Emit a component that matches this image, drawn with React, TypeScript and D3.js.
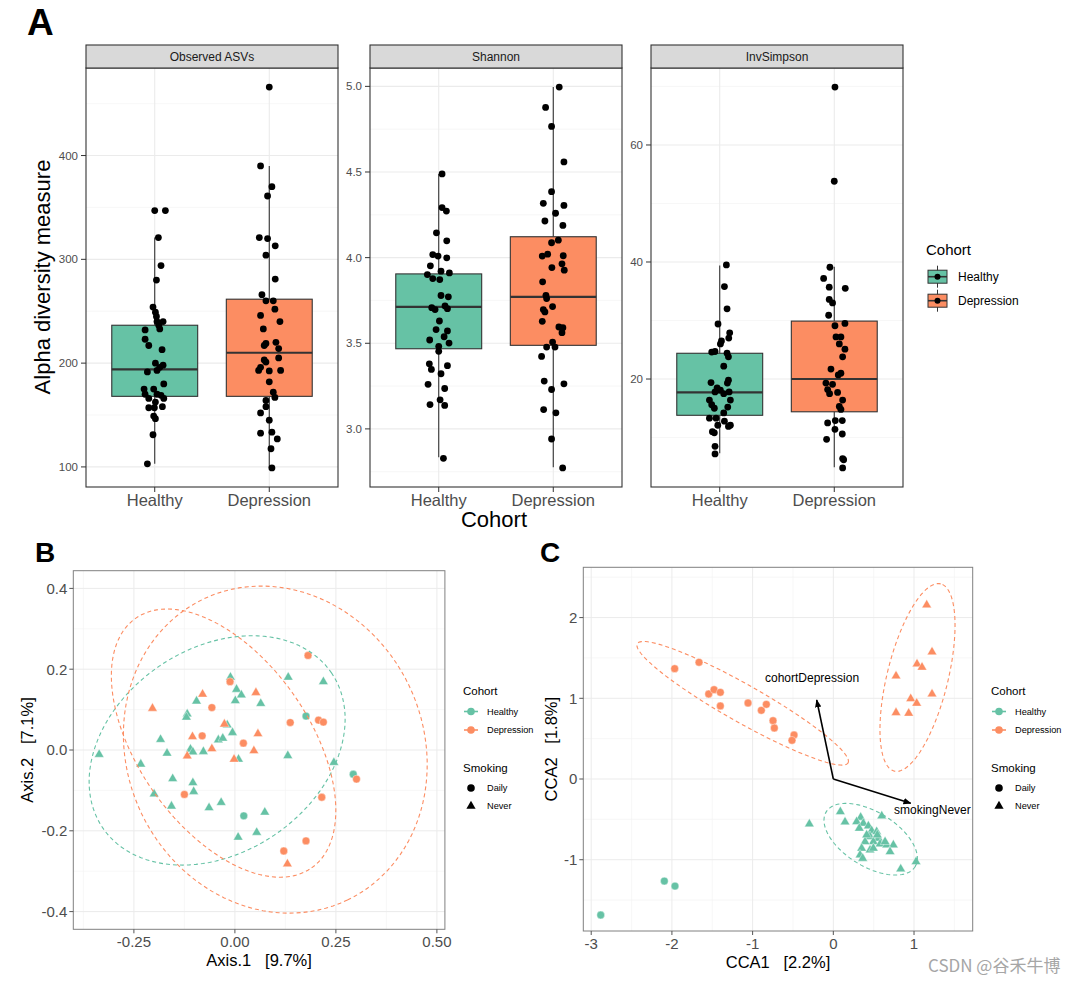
import React from "react";
import * as d3 from "d3";

const FONT = "'Liberation Sans', Arial, Helvetica, sans-serif";
const cohorts = ["Healthy", "Depression"];
const cohortColors = ["#66C2A5", "#FC8D62"];
const smokingLevels = ["Daily", "Never"];
const metrics = ["Observed ASVs", "Shannon", "InvSimpson"];

// [value, horizontal jitter in category units]
const observedHealthy: [number, number][] = [[347,0],[347,0.093],[321,0.032],[294,0.055],[280,0.015],[254,-0.015],[249,0.006],[245,0.015],[240,0.02],[240,0.073],[236.5,0.035],[233,0.044],[232,-0.084],[223,-0.084],[217,-0.052],[213,0.064],[200,0.006],[198,0.073],[191.5,-0.064],[193,0.02],[196,0.044],[180,0.079],[175,-0.093],[175,-0.009],[170,-0.084],[170,0.02],[169,0.055],[166,-0.052],[166,0.079],[162.5,0.006],[158,0.067],[157,-0.052],[157,-0.003],[149,-0.009],[146.5,0.006],[131,-0.015],[103,-0.064]];
const observedDepression: [number, number][] = [[466,0],[390,-0.076],[370,0.023],[361,-0.015],[321,-0.087],[320,-0.015],[313,0.052],[304,-0.029],[281,0.052],[266,-0.064],[260,-0.029],[260,0.035],[246,-0.076],[252,0.049],[240,0.093],[233,-0.052],[217,-0.044],[219,-0.029],[220,0.058],[214,0.082],[203,-0.044],[201,-0.029],[205,0.082],[193,-0.093],[196,-0.076],[192.5,0],[193,0.099],[182,0],[172,0.035],[167,0.049],[164,-0.029],[158,-0.029],[152,-0.076],[145,0],[132.5,-0.076],[133.5,0.023],[127,0.07],[117.5,0.015],[99,0.023]];
const shannonHealthy: [number, number][] = [[4.489,0.029],[4.292,0.029],[4.272,0.067],[4.145,-0.02],[4.098,0.07],[4.018,-0.052],[4.009,-0.006],[3.999,0.07],[3.952,-0.073],[3.901,-0.099],[3.921,0.02],[3.911,0.093],[3.878,-0.052],[3.872,0.009],[3.779,0.02],[3.771,0.084],[3.708,-0.061],[3.697,-0.032],[3.718,0.055],[3.702,0.076],[3.63,0.006],[3.58,-0.023],[3.572,0.076],[3.519,-0.079],[3.538,0.047],[3.501,0.09],[3.482,0],[3.453,0],[3.38,-0.082],[3.347,-0.064],[3.369,0.076],[3.322,0.02],[3.26,-0.093],[3.236,0.052],[3.17,0.012],[3.142,-0.076],[3.137,0.052],[2.828,0.041]];
const shannonDepression: [number, number][] = [[4.996,0.052],[4.877,-0.067],[4.766,-0.015],[4.559,0.093],[4.385,-0.015],[4.317,-0.087],[4.305,0.093],[4.259,0.02],[4.214,-0.073],[4.188,0.084],[4.087,-0.015],[4.102,0.044],[4.009,-0.096],[4.02,-0.049],[4.011,0.087],[3.942,-0.012],[3.964,0.076],[3.927,0.096],[3.859,-0.093],[3.78,-0.064],[3.761,-0.058],[3.714,-0.006],[3.697,-0.087],[3.683,-0.073],[3.628,-0.096],[3.595,0.049],[3.591,0.084],[3.562,0.076],[3.507,-0.006],[3.478,-0.058],[3.478,0.015],[3.423,-0.102],[3.279,-0.079],[3.263,0.093],[3.23,-0.015],[3.113,-0.084],[3.094,0.023],[2.941,-0.015],[2.772,0.082]];
const invSimpsonHealthy: [number, number][] = [[39.5,0.058],[35.8,0.041],[32.0,0.064],[29.4,-0.015],[27.9,0.087],[27.0,0.079],[26.5,0.015],[26.0,0.006],[24.6,-0.07],[24.7,-0.041],[24.4,0.064],[23.8,0.076],[22.2,0.035],[19.8,0.076],[19.3,0.067],[19.4,-0.076],[18.5,-0.023],[18.1,0.006],[17.8,0.082],[17.5,0.035],[17.8,-0.041],[16.4,-0.09],[16.4,0.093],[15.6,-0.07],[15.0,-0.047],[15.2,0.07],[14.2,0.035],[13.3,-0.09],[13.3,-0.032],[12.8,0.041],[12.1,-0.017],[12.1,0.093],[11.9,0.076],[11.0,-0.064],[10.8,-0.047],[8.5,-0.041],[7.2,-0.041]];
const invSimpsonDepression: [number, number][] = [[69.9,0.006],[53.8,0],[39.1,-0.038],[37.2,-0.093],[35.7,-0.044],[35.5,0.096],[33.6,-0.044],[33.0,-0.015],[30.9,-0.049],[29.1,0.006],[29.5,0.093],[27.2,0.015],[27.2,0.058],[26.0,0.044],[25.1,0.093],[23.8,0.073],[21.7,-0.029],[21.0,0.058],[20.7,0.035],[19.3,-0.073],[19.1,-0.015],[18.2,-0.058],[17.5,-0.041],[17.7,0.029],[16.4,0.073],[15.3,0.044],[14.8,0.058],[12.5,-0.058],[12.9,0.009],[12.9,0.07],[11.4,0.006],[9.7,-0.067],[10.6,0.07],[6.4,0.073],[6.2,0.082],[4.8,0.073]];

// box stats: [lower whisker, Q1, median, Q3, upper whisker]
const observedBoxes = [[103,168,194,236.5,321],[99,168,210,261.6,390]];
const shannonBoxes = [[2.834,3.468,3.712,3.905,4.489],[2.776,3.488,3.771,4.122,4.996]];
const invSimpsonBoxes = [[7.3,13.8,17.7,24.4,39.4],[4.9,14.4,20.0,29.9,39.2]];

const observedTicks = [100,200,300,400];
const shannonTicks = [3.0,3.5,4.0,4.5,5.0];
const invSimpsonTicks = [20,40,60];

// Panel B: PCoA
const pcoaHealthyDaily = [[0.176,0.084],[0.293,-0.06],[0.022,-0.163]];
const pcoaHealthyNever = [[-0.336,-0.011],[-0.233,-0.035],[-0.184,0.026],[-0.168,-0.008],[-0.154,-0.071],[-0.2,-0.109],[-0.157,-0.139],[-0.118,0.089],[-0.12,0.081],[-0.095,0.121],[-0.11,0.002],[-0.104,-0.005],[-0.078,-0.004],[-0.104,-0.081],[-0.102,-0.103],[-0.064,-0.143],[-0.034,-0.13],[-0.041,0.025],[-0.03,0.029],[-0.019,0.062],[-0.006,0.043],[-0.011,0.18],[0.004,0.15],[0.001,0.122],[0.016,0.136],[0.009,-0.023],[0.064,0.115],[0.074,-0.154],[0.054,-0.204],[0.008,-0.216],[0.132,0.18],[0.219,0.169],[0.131,-0.014],[0.245,-0.031]];
const pcoaDepressionDaily = [[-0.012,0.169],[-0.057,0.105],[-0.081,0.035],[0.021,0.017],[-0.125,-0.11],[0.181,0.234],[0.137,0.068],[0.207,0.074],[0.219,0.069],[0.215,-0.117],[0.301,-0.072],[0.176,-0.225],[0.121,-0.25]];
const pcoaDepressionNever = [[-0.204,0.103],[-0.08,0.138],[-0.105,0.033],[-0.118,-0.015],[-0.057,0.003],[-0.026,0.064],[-0.002,-0.023],[0.052,0.142],[0.057,0.04],[0.047,-0.002],[0.13,-0.282]];
// ellipses: center, semi-axes, rotation (deg)
const pcoaEllipses = [
  { cohort: 0, cx: -0.044, cy: -0.001, a: 0.342, b: 0.253, angle: 34 },
  { cohort: 1, cx: -0.028, cy: 0.017, a: 0.378, b: 0.211, angle: -54.8 },
  { cohort: 1, cx: 0.1, cy: 0.001, a: 0.413, b: 0.367, angle: -64.4 },
];
const pcoaXTicks = [-0.25, 0, 0.25, 0.5];
const pcoaYTicks = [-0.4, -0.2, 0, 0.2, 0.4];

// Panel C: CCA
const ccaHealthyDaily = [[-2.094,-1.264],[-1.962,-1.326],[-2.882,-1.685]];
const ccaHealthyNever = [[-0.297,-0.558],[0.087,-0.405],[0.145,-0.533],[0.6,-0.458],[0.339,-0.475],[0.289,-0.529],[0.372,-0.549],[0.322,-0.611],[0.434,-0.582],[0.475,-0.64],[0.537,-0.653],[0.558,-0.735],[0.455,-0.714],[0.496,-0.777],[0.579,-0.805],[0.661,-0.818],[0.744,-0.818],[0.641,-0.777],[0.393,-0.777],[0.351,-0.859],[0.455,-0.88],[0.496,-0.859],[0.703,-0.901],[0.331,-0.942],[0.364,-0.983],[0.835,-1.115],[1.025,-1.025],[0.545,-0.693],[0.413,-0.693]];
const ccaDepressionDaily = [[-1.966,1.367],[-1.664,1.446],[-1.544,1.053],[-1.478,1.107],[-1.4,1.074],[-1.4,0.905],[-1.057,0.942],[-0.892,0.851],[-0.83,0.925],[-0.747,0.723],[-0.731,0.632],[-0.487,0.545],[-0.512,0.479]];
const ccaDepressionNever = [[1.157,2.156],[1.223,1.574],[1.037,1.425],[1.099,1.384],[0.777,1.276],[1.223,1.053],[0.959,0.995],[1.033,0.938],[0.777,0.822],[0.934,0.814]];
const ccaEllipses = [
  { cohort: 1, cx: -1.123, cy: 0.938, a: 1.5, b: 0.233, angle: -29.5 },
  { cohort: 1, cx: 1.043, cy: 1.258, a: 1.195, b: 0.377, angle: 76.1 },
  { cohort: 0, cx: 0.463, cy: -0.746, a: 0.647, b: 0.337, angle: -31.6 },
];
const ccaArrows = [
  { name: "cohortDepression", x: -0.206, y: 0.979 },
  { name: "smokingNever", x: 0.959, y: -0.301 },
];
const ccaXTicks = [-3, -2, -1, 0, 1];
const ccaYTicks = [-1, 0, 1, 2];

const triPath = (s: number) => {
  const h = (s * Math.sqrt(3)) / 2;
  return `M0,${(-2 * h) / 3}L${s / 2},${h / 3}L${-s / 2},${h / 3}Z`;
};

function minorOf(ticks: number[], dom: number[]) {
  const step = ticks[1] - ticks[0];
  const out: number[] = [];
  const lo = Math.min(dom[0], dom[1]), hi = Math.max(dom[0], dom[1]);
  for (let v = ticks[0] - step * 3 + step / 2; v < hi + step; v += step) {
    if (v > lo && v < hi) out.push(+v.toFixed(6));
  }
  return out;
}

function Facet({ left, title, groups, boxes, ticks, fmt }: any) {
  const top = 68, bottom = 487, width = 252;
  const all = groups.flat().map((d: number[]) => d[0]);
  const [mn, mx] = d3.extent(all) as [number, number];
  const pad = (mx - mn) * 0.05;
  const y = d3.scaleLinear().domain([mn - pad, mx + pad]).range([bottom, top]);
  const x = d3.scaleLinear().domain([0.4, 2.6]).range([left, left + width]);
  const minor = minorOf(ticks, y.domain());
  const hw = 0.375;
  return (
    <g>
      <rect x={left} y={top} width={width} height={bottom - top} fill="white" />
      {minor.map((v) => (
        <line key={"m" + v} x1={left} x2={left + width} y1={y(v)} y2={y(v)} stroke="#F3F3F3" strokeWidth={0.7} />
      ))}
      {ticks.map((v: number) => (
        <line key={"g" + v} x1={left} x2={left + width} y1={y(v)} y2={y(v)} stroke="#EBEBEB" strokeWidth={1.1} />
      ))}
      {cohorts.map((c, i) => (
        <line key={"v" + c} x1={x(i + 1)} x2={x(i + 1)} y1={top} y2={bottom} stroke="#EBEBEB" strokeWidth={1.1} />
      ))}
      {boxes.map((b: number[], i: number) => {
        const cx = x(i + 1);
        return (
          <g key={"b" + i}>
            <line x1={cx} x2={cx} y1={y(b[4])} y2={y(b[3])} stroke="#333" strokeWidth={1.1} />
            <line x1={cx} x2={cx} y1={y(b[1])} y2={y(b[0])} stroke="#333" strokeWidth={1.1} />
            <rect x={x(i + 1 - hw)} width={x(i + 1 + hw) - x(i + 1 - hw)} y={y(b[3])} height={y(b[1]) - y(b[3])} fill={cohortColors[i]} stroke="#333" strokeWidth={1.1} />
            <line x1={x(i + 1 - hw)} x2={x(i + 1 + hw)} y1={y(b[2])} y2={y(b[2])} stroke="#333" strokeWidth={2.2} />
          </g>
        );
      })}
      {groups.map((g: number[][], i: number) =>
        g.map((d, k) => <circle key={i + "-" + k} cx={x(i + 1 + d[1])} cy={y(d[0])} r={3.4} fill="black" />)
      )}
      <rect x={left} y={top} width={width} height={bottom - top} fill="none" stroke="#333" strokeWidth={1.1} />
      <rect x={left} y={45} width={width} height={23} fill="#D9D9D9" stroke="#333" strokeWidth={1.1} />
      <text x={left + width / 2} y={60.5} textAnchor="middle" fontSize={12} fill="#1A1A1A">{title}</text>
      {ticks.map((v: number) => (
        <g key={"t" + v}>
          <line x1={left - 5} x2={left} y1={y(v)} y2={y(v)} stroke="#333" strokeWidth={1} />
          <text x={left - 8} y={y(v)} dy="0.35em" textAnchor="end" fontSize={11.5} fill="#4D4D4D">{fmt(v)}</text>
        </g>
      ))}
      {cohorts.map((c, i) => (
        <g key={"c" + c}>
          <line x1={x(i + 1)} x2={x(i + 1)} y1={bottom} y2={bottom + 5} stroke="#333" strokeWidth={1} />
          <text x={x(i + 1)} y={505.5} textAnchor="middle" fontSize={16.5} fill="#4D4D4D">{c}</text>
        </g>
      ))}
    </g>
  );
}

function ellipsePath(e: any, x: any, y: any) {
  const th = (e.angle * Math.PI) / 180;
  const pts = d3.range(0, 121).map((i) => {
    const t = (i / 120) * 2 * Math.PI;
    const u = e.a * Math.cos(t), v = e.b * Math.sin(t);
    return [x(e.cx + u * Math.cos(th) - v * Math.sin(th)), y(e.cy + u * Math.sin(th) + v * Math.cos(th))] as [number, number];
  });
  return (d3.line()(pts) as string) + "Z";
}

function Scatter({ rect, xDom, yDom, xTicks, yTicks, xFmt, yFmt, series, ellipses, arrows, xTitle, yTitle, yTitleX }: any) {
  const x = d3.scaleLinear().domain(xDom).range([rect.x, rect.x + rect.w]);
  const y = d3.scaleLinear().domain(yDom).range([rect.y + rect.h, rect.y]);
  const xm = minorOf(xTicks, xDom), ym = minorOf(yTicks, yDom);
  const bottom = rect.y + rect.h;
  return (
    <g>
      <rect x={rect.x} y={rect.y} width={rect.w} height={rect.h} fill="white" />
      {xm.map((v) => <line key={"xm" + v} x1={x(v)} x2={x(v)} y1={rect.y} y2={bottom} stroke="#F3F3F3" strokeWidth={0.7} />)}
      {ym.map((v) => <line key={"ym" + v} y1={y(v)} y2={y(v)} x1={rect.x} x2={rect.x + rect.w} stroke="#F3F3F3" strokeWidth={0.7} />)}
      {xTicks.map((v: number) => <line key={"xg" + v} x1={x(v)} x2={x(v)} y1={rect.y} y2={bottom} stroke="#EBEBEB" strokeWidth={1} />)}
      {yTicks.map((v: number) => <line key={"yg" + v} y1={y(v)} y2={y(v)} x1={rect.x} x2={rect.x + rect.w} stroke="#EBEBEB" strokeWidth={1} />)}
      {series.map((s: any, si: number) =>
        s.pts.map((p: number[], k: number) =>
          s.shape === "Daily" ? (
            <circle key={si + "-" + k} cx={x(p[0])} cy={y(p[1])} r={3.9} fill={s.color} stroke="white" strokeWidth={0.4} />
          ) : (
            <path key={si + "-" + k} d={triPath(9.6)} transform={`translate(${x(p[0])},${y(p[1])})`} fill={s.color} stroke="white" strokeWidth={0.4} />
          )
        )
      )}
      {ellipses.map((e: any, i: number) => (
        <path key={"e" + i} d={ellipsePath(e, x, y)} fill="none" stroke={cohortColors[e.cohort]} strokeWidth={1.1} strokeDasharray="4,3" />
      ))}
      {arrows &&
        arrows.map((a: any) => (
          <g key={a.name}>
            <line x1={x(0)} y1={y(0)} x2={x(a.x)} y2={y(a.y)} stroke="black" strokeWidth={1.6} markerEnd={`url(#arrowhead)`} />
            <text x={x(a.x * 1.28)} y={y(a.y * 1.28)} dy="0.35em" textAnchor="middle" fontSize={12} fill="black">{a.name}</text>
          </g>
        ))}
      <rect x={rect.x} y={rect.y} width={rect.w} height={rect.h} fill="none" stroke="#808080" strokeWidth={1} />
      {xTicks.map((v: number) => (
        <g key={"xt" + v}>
          <line x1={x(v)} x2={x(v)} y1={bottom} y2={bottom + 4} stroke="#555" />
          <text x={x(v)} y={bottom + 18} textAnchor="middle" fontSize={15} fill="#4D4D4D">{xFmt(v)}</text>
        </g>
      ))}
      {yTicks.map((v: number) => (
        <g key={"yt" + v}>
          <line x1={rect.x - 4} x2={rect.x} y1={y(v)} y2={y(v)} stroke="#555" />
          <text x={rect.x - 6} y={y(v)} dy="0.36em" textAnchor="end" fontSize={15} fill="#4D4D4D">{yFmt(v)}</text>
        </g>
      ))}
      <text x={rect.x + rect.w / 2} y={bottom + 37} textAnchor="middle" fontSize={16.5} fill="black" style={{ whiteSpace: "pre" }}>{xTitle}</text>
      <text transform={`translate(${yTitleX},${rect.y + rect.h / 2}) rotate(-90)`} textAnchor="middle" fontSize={16.5} fill="black" style={{ whiteSpace: "pre" }}>{yTitle}</text>
    </g>
  );
}

function PointLegend({ x0 }: { x0: number }) {
  return (
    <g>
      <text x={x0} y={695} fontSize={11.5} fill="black">Cohort</text>
      {cohorts.map((c, i) => {
        const yy = 711.5 + i * 18.5;
        return (
          <g key={c}>
            <line x1={x0 + 1} x2={x0 + 15} y1={yy} y2={yy} stroke={cohortColors[i]} strokeWidth={1.6} />
            <circle cx={x0 + 8} cy={yy} r={3.8} fill={cohortColors[i]} />
            <text x={x0 + 24} y={yy} dy="0.35em" fontSize={9.2} fill="black">{c}</text>
          </g>
        );
      })}
      <text x={x0} y={772} fontSize={11.5} fill="black">Smoking</text>
      {smokingLevels.map((s, i) => {
        const yy = 788 + i * 18;
        return (
          <g key={s}>
            {s === "Daily" ? (
              <circle cx={x0 + 8} cy={yy} r={3.8} fill="black" />
            ) : (
              <path d={triPath(9.2)} transform={`translate(${x0 + 8},${yy})`} fill="black" />
            )}
            <text x={x0 + 24} y={yy} dy="0.35em" fontSize={9.2} fill="black">{s}</text>
          </g>
        );
      })}
    </g>
  );
}

export default function App() {
  const f0 = (v: number) => d3.format("d")(v);
  const f1 = (v: number) => d3.format(".1f")(v);
  const f2 = (v: number) => d3.format(".2f")(v).replace("−", "-");
  const fy1 = (v: number) => d3.format(".1f")(v).replace("−", "-");
  const fi = (v: number) => d3.format("d")(v).replace("−", "-");
  return (
    <svg width={1080} height={983} style={{ position: "absolute", left: 0, top: 0, background: "white" }} fontFamily={FONT}>
      <defs>
        <marker id="arrowhead" viewBox="0 0 10 10" refX="9" refY="5" markerWidth="5" markerHeight="5" orient="auto" markerUnits="strokeWidth">
          <path d="M0,1 L10,5 L0,9 Z" fill="black" />
        </marker>
      </defs>
      <rect width={1080} height={983} fill="white" />
      {/* Panel A */}
      <text x={27} y={35} fontSize={37} fontWeight="bold" fill="black">A</text>
      <Facet left={86} title={metrics[0]} groups={[observedHealthy, observedDepression]} boxes={observedBoxes} ticks={observedTicks} fmt={f0} />
      <Facet left={370} title={metrics[1]} groups={[shannonHealthy, shannonDepression]} boxes={shannonBoxes} ticks={shannonTicks} fmt={f1} />
      <Facet left={651} title={metrics[2]} groups={[invSimpsonHealthy, invSimpsonDepression]} boxes={invSimpsonBoxes} ticks={invSimpsonTicks} fmt={f0} />
      <text transform="translate(50,277) rotate(-90)" textAnchor="middle" fontSize={22} fill="black">Alpha diversity measure</text>
      <text x={494} y={527} textAnchor="middle" fontSize={22} fill="black">Cohort</text>
      <g>
        <text x={926} y={255} fontSize={15} fill="black">Cohort</text>
        {cohorts.map((c, i) => {
          const cy = 276.7 + i * 24;
          return (
            <g key={c}>
              <line x1={937.5} x2={937.5} y1={cy - 11} y2={cy + 11} stroke="#333" strokeWidth={1} />
              <rect x={928} y={cy - 6.5} width={19} height={13} fill={cohortColors[i]} stroke="#333" strokeWidth={1} />
              <line x1={928} x2={947} y1={cy} y2={cy} stroke="#333" strokeWidth={1.6} />
              <circle cx={937.5} cy={cy} r={3} fill="black" />
              <text x={958} y={cy} dy="0.35em" fontSize={12} fill="black">{c}</text>
            </g>
          );
        })}
      </g>
      {/* Panel B */}
      <text x={35} y={562} fontSize={28} fontWeight="bold" fill="black">B</text>
      <Scatter
        rect={{ x: 73.3, y: 570.7, w: 371.6, h: 358.6 }}
        xDom={[-0.4, 0.5198]}
        yDom={[-0.4438, 0.4438]}
        xTicks={pcoaXTicks}
        yTicks={pcoaYTicks}
        xFmt={f2}
        yFmt={fy1}
        series={[
          { pts: pcoaHealthyNever, color: cohortColors[0], shape: "Never" },
          { pts: pcoaHealthyDaily, color: cohortColors[0], shape: "Daily" },
          { pts: pcoaDepressionNever, color: cohortColors[1], shape: "Never" },
          { pts: pcoaDepressionDaily, color: cohortColors[1], shape: "Daily" },
        ]}
        ellipses={pcoaEllipses}
        xTitle={"Axis.1   [9.7%]"}
        yTitle={"Axis.2   [7.1%]"}
        yTitleX={33}
      />
      <PointLegend x0={463} />
      {/* Panel C */}
      <text x={540} y={562} fontSize={28} fontWeight="bold" fill="black">C</text>
      <Scatter
        rect={{ x: 583.3, y: 567.3, w: 389.4, h: 363.7 }}
        xDom={[-3.098, 1.727]}
        yDom={[-1.883, 2.623]}
        xTicks={ccaXTicks}
        yTicks={ccaYTicks}
        xFmt={fi}
        yFmt={fi}
        series={[
          { pts: ccaHealthyNever, color: cohortColors[0], shape: "Never" },
          { pts: ccaHealthyDaily, color: cohortColors[0], shape: "Daily" },
          { pts: ccaDepressionNever, color: cohortColors[1], shape: "Never" },
          { pts: ccaDepressionDaily, color: cohortColors[1], shape: "Daily" },
        ]}
        ellipses={ccaEllipses}
        arrows={ccaArrows}
        xTitle={"CCA1   [2.2%]"}
        yTitle={"CCA2   [1.8%]"}
        yTitleX={557}
      />
      <PointLegend x0={991} />
      <text x={928} y={972} fontSize={17} fill="#A6A6A6" fontFamily="'Noto Sans CJK SC', 'Liberation Sans', sans-serif" style={{ whiteSpace: "pre" }}>CSDN @谷禾牛博</text>
    </svg>
  );
}
